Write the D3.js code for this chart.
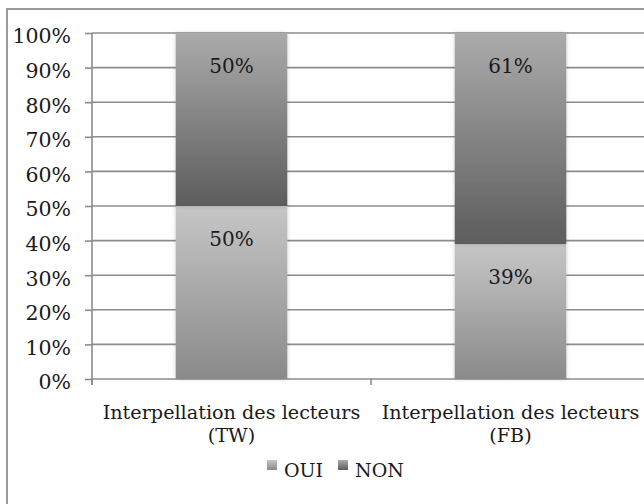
<!DOCTYPE html>
<html>
<head>
<meta charset="utf-8">
<script src="https://cdn.jsdelivr.net/npm/d3@7"></script>
<style>
  body { margin: 0; background: #fff; }
  svg { display: block; }
  text { font-family: "DejaVu Serif", serif; fill: #1a1a1a; }
</style>
</head>
<body>
<div id="chart"></div>
<script>
// data
const categories = ["Interpellation des lecteurs (TW)", "Interpellation des lecteurs (FB)"];
const catLines = [["Interpellation des lecteurs", "(TW)"], ["Interpellation des lecteurs", "(FB)"]];
const seriesNames = ["OUI", "NON"];
const oui = [0.50, 0.39];
const non = [0.50, 0.61];
const yTicks = [0, 0.1, 0.2, 0.3, 0.4, 0.5, 0.6, 0.7, 0.8, 0.9, 1];

const width = 644, height = 504;
const margin = { top: 33, right: -6, bottom: 125, left: 92 };

const svg = d3.select('#chart').append('svg')
	.attr('width', width)
	.attr('height', height);

const defs = svg.append('defs');
const grad = (id, top, bottom) => {
	const g = defs.append('linearGradient')
		.attr('id', id)
		.attr('x1', 0).attr('y1', 0).attr('x2', 0).attr('y2', 1);
	g.append('stop').attr('offset', '0%').attr('stop-color', top);
	g.append('stop').attr('offset', '100%').attr('stop-color', bottom);
};
grad('gOui', '#c6c6c6', '#8a8a8a');
grad('gNon', '#ababab', '#5c5c5c');
const shadow = defs.append('filter').attr('id', 'sh')
	.attr('x', '-10%').attr('y', '-2%').attr('width', '120%').attr('height', '104%');
shadow.append('feDropShadow').attr('dx', 0).attr('dy', 0)
	.attr('stdDeviation', 2).attr('flood-color', '#000').attr('flood-opacity', 0.18);

// outer frame (cropped by the picture on the right and bottom)
svg.append('rect')
	.attr('x', 7).attr('y', 9)
	.attr('width', 700).attr('height', 600)
	.attr('fill', 'none')
	.attr('stroke', '#9a9a9a')
	.attr('stroke-width', 2);

const innerW = width - margin.left - margin.right;
const innerH = height - margin.top - margin.bottom;

const x = d3.scaleBand()
	.domain(categories)
	.range([0, innerW])
	.paddingInner(0.6)
	.paddingOuter(0.3);

const y = d3.scaleLinear()
	.domain([0, 1])
	.range([innerH, 0]);

const g = svg.append('g')
	.attr('transform', `translate(${margin.left},${margin.top})`);

// gridlines
g.append('g')
	.selectAll('line')
	.data(yTicks.slice(1))
	.join('line')
	.attr('x1', 0).attr('x2', innerW)
	.attr('y1', d => y(d)).attr('y2', d => y(d))
	.attr('stroke', '#8c8c8c')
	.attr('stroke-width', 1.6);

// y axis
const yAxis = g.append('g')
	.call(d3.axisLeft(y).tickValues(yTicks).tickFormat(d3.format('.0%')).tickSize(7).tickPadding(14));
yAxis.select('.domain').attr('stroke', '#8c8c8c').attr('stroke-width', 1.6)
	.attr('d', `M0,${y(0) + 6}V${y(1)}`);
yAxis.selectAll('.tick line').attr('stroke', '#8c8c8c').attr('stroke-width', 1.6);
yAxis.selectAll('.tick text')
	.style('font-family', '"DejaVu Serif", serif')
	.style('font-size', '20.5px')
	.attr('dy', '0.48em')
	.attr('fill', '#1a1a1a');

// x axis
const xAxisG = g.append('g').attr('transform', `translate(0,${y(0)})`);
xAxisG.append('line')
	.attr('x1', 0).attr('x2', innerW)
	.attr('stroke', '#8c8c8c').attr('stroke-width', 1.6);
const bandEdges = categories.map((c, i) => i * innerW / categories.length);
xAxisG.selectAll('.xt')
	.data(bandEdges)
	.join('line')
	.attr('class', 'xt')
	.attr('x1', d => d).attr('x2', d => d)
	.attr('y1', 0).attr('y2', 6)
	.attr('stroke', '#8c8c8c').attr('stroke-width', 1.6);

// stacked bars
const stackData = categories.map((c, i) => ({ cat: c, OUI: oui[i], NON: non[i] }));
const stacked = d3.stack().keys(seriesNames)(stackData);
const fills = { OUI: 'url(#gOui)', NON: 'url(#gNon)' };

const layers = g.selectAll('.layer')
	.data(stacked)
	.join('g')
	.attr('class', 'layer');

layers.selectAll('rect')
	.data(d => d.map(p => ({ key: d.key, p })))
	.join('rect')
	.attr('x', d => x(d.p.data.cat))
	.attr('width', x.bandwidth())
	.attr('y', d => y(d.p[1]))
	.attr('height', d => y(d.p[0]) - y(d.p[1]))
	.attr('fill', d => fills[d.key])
	.attr('filter', 'url(#sh)');

layers.selectAll('text')
	.data(d => d.map(p => ({ key: d.key, p })))
	.join('text')
	.attr('x', d => x(d.p.data.cat) + x.bandwidth() / 2)
	.attr('y', d => y(d.p[1]) + 40)
	.attr('text-anchor', 'middle')
	.style('font-size', '20px')
	.text(d => Math.round((d.p[1] - d.p[0]) * 100) + '%');

// category labels
const catG = g.append('g').attr('transform', `translate(0,${y(0)})`);
catG.selectAll('text')
	.data(categories)
	.join('text')
	.attr('text-anchor', 'middle')
	.attr('x', d => x(d) + x.bandwidth() / 2)
	.attr('y', 40)
	.style('font-size', '19.2px')
	.selectAll('tspan')
	.data((d, i) => catLines[i])
	.join('tspan')
	.attr('x', function () { return d3.select(this.parentNode).attr('x'); })
	.attr('dy', (d, i) => i ? 23 : 0)
	.text(d => d);

// legend
const legend = svg.append('g').attr('transform', 'translate(267,477)');
const legendX = [0, 71];
legend.selectAll('g')
	.data(seriesNames)
	.join('g')
	.attr('transform', (d, i) => `translate(${legendX[i]},0)`)
	.each(function (d) {
		const item = d3.select(this);
		item.append('rect').attr('x', 0).attr('y', -17).attr('width', 10).attr('height', 10)
			.attr('fill', fills[d]);
		item.append('text').attr('x', 17).attr('y', 0)
			.style('font-size', '19px')
			.text(d);
	});
</script>
</body>
</html>
